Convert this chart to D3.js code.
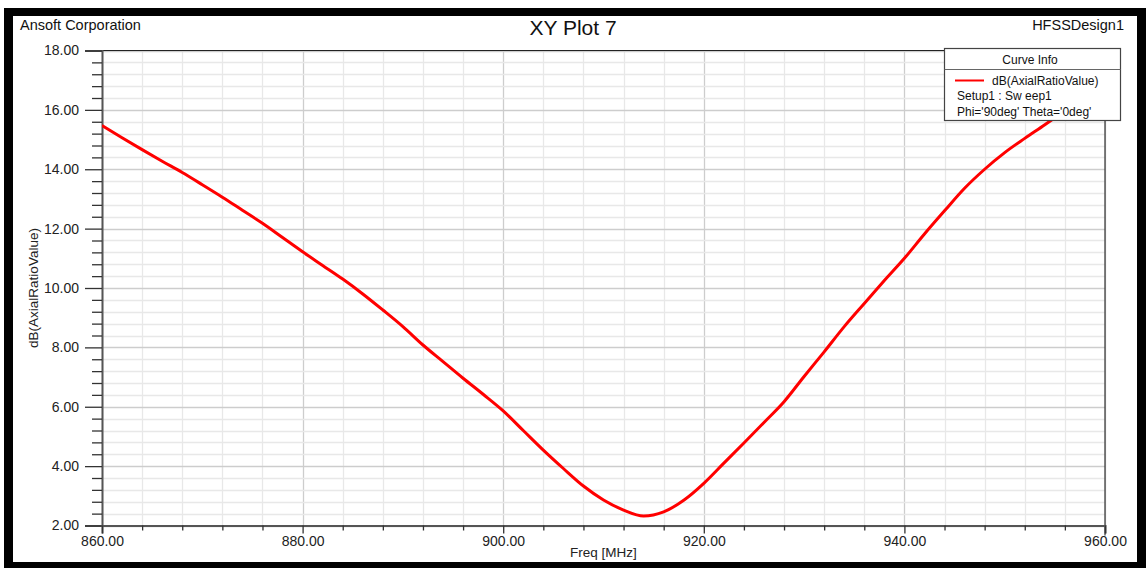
<!DOCTYPE html>
<html>
<head>
<meta charset="utf-8">
<script src="https://cdn.jsdelivr.net/npm/d3@7"></script>
<style>
  html, body { margin: 0; padding: 0; background: #fff; }
  svg { display: block; font-family: Arial, "Liberation Sans", sans-serif; }
</style>
</head>
<body>
<svg id="chart" width="1146" height="568"></svg>
<script>
// Axial ratio sweep, Setup1 : Sweep1, Phi='90deg' Theta='0deg'
const freqMHz = [860, 862, 864, 866, 868, 870, 872, 874, 876, 878,
                 880, 882, 884, 886, 888, 890, 892, 894, 896, 898,
                 900, 902, 904, 906, 908, 910, 912, 914, 916, 918,
                 920, 922, 924, 926, 928, 930, 932, 934, 936, 938,
                 940, 942, 944, 946, 948, 950, 952, 954, 956, 958, 960];
const axialRatioDb = [15.47, 15.06, 14.66, 14.27, 13.89, 13.48, 13.06, 12.62, 12.18, 11.70,
                      11.22, 10.76, 10.30, 9.80, 9.26, 8.70, 8.08, 7.52, 6.96, 6.42,
                      5.86, 5.20, 4.54, 3.92, 3.33, 2.86, 2.52, 2.32, 2.46, 2.85,
                      3.42, 4.10, 4.78, 5.47, 6.17, 7.02, 7.85, 8.70, 9.48, 10.25,
                      11.00, 11.82, 12.60, 13.36, 14.00, 14.56, 15.04, 15.50, 15.98, 16.50, 17.05];
const xTickValues = [860, 880, 900, 920, 940, 960];
const yTickValues = [2, 4, 6, 8, 10, 12, 14, 16, 18];
const legendLines = ["dB(AxialRatioValue)", "Setup1 : Sw eep1", "Phi='90deg' Theta='0deg'"];

const svg = d3.select("#chart");
const W = 1146, H = 568;
const plot = { left: 102, right: 1105, top: 50.5, bottom: 525.5 };
const FONT = "Arial, 'Liberation Sans', sans-serif";

// outer black frame
svg.append("rect").attr("x", 4).attr("y", 8).attr("width", W - 4).attr("height", H - 8).attr("fill", "#000");
svg.append("rect").attr("x", 13).attr("y", 16).attr("width", 1124).attr("height", 546).attr("fill", "#fff");

const x = d3.scaleLinear().domain([860, 960]).range([plot.left, plot.right]);
const y = d3.scaleLinear().domain([2, 18]).range([plot.bottom, plot.top]);

// grid
const minorX = d3.range(860, 960.001, 4);
const minorY = d3.range(2, 18.001, 0.4);
const isMajorY = d => Math.abs(Math.round(d * 10) % 20) < 1e-6;
const grid = svg.append("g");
grid.selectAll(".gx").data(minorX).join("line")
  .attr("x1", d => Math.round(x(d)) + 0.5).attr("x2", d => Math.round(x(d)) + 0.5)
  .attr("y1", plot.top).attr("y2", plot.bottom)
  .attr("stroke", d => (d % 20 === 0 ? "#cdcdcd" : "#e8e8e8")).attr("stroke-width", 1.3);
grid.selectAll(".gy").data(minorY).join("line")
  .attr("x1", plot.left).attr("x2", plot.right)
  .attr("y1", d => Math.round(y(d)) + 0.5).attr("y2", d => Math.round(y(d)) + 0.5)
  .attr("stroke", d => (isMajorY(d) ? "#cdcdcd" : "#e8e8e8")).attr("stroke-width", 1.3);

// plot box (top and right)
svg.append("line").attr("x1", 85).attr("x2", plot.right).attr("y1", plot.top).attr("y2", plot.top)
  .attr("stroke", "#222").attr("stroke-width", 1);
svg.append("line").attr("x1", plot.right).attr("x2", plot.right).attr("y1", plot.top).attr("y2", plot.bottom + 10)
  .attr("stroke", "#333").attr("stroke-width", 1.2);

// y axis
const yAxis = d3.axisLeft(y).tickValues(yTickValues).tickFormat(d3.format(".2f")).tickSize(17).tickPadding(6);
const gy = svg.append("g").attr("transform", `translate(${plot.left},0)`).call(yAxis);
gy.select(".domain").attr("stroke", "#555").attr("stroke-width", 2);
gy.selectAll(".tick line").attr("stroke", "#333").attr("stroke-width", 1.3);
gy.selectAll(".tick text").attr("font-size", 14).attr("fill", "#222").attr("font-family", FONT);
const gyMinor = d3.axisLeft(y).tickValues(minorY.filter(v => !isMajorY(v))).tickSize(10).tickFormat("");
svg.append("g").attr("transform", `translate(${plot.left},0)`).call(gyMinor)
  .call(g => g.select(".domain").remove())
  .call(g => g.selectAll(".tick line").attr("stroke", "#333").attr("stroke-width", 1.3));

// x axis
const xAxis = d3.axisBottom(x).tickValues(xTickValues).tickFormat(d3.format(".2f")).tickSize(8).tickPadding(3);
const gx = svg.append("g").attr("transform", `translate(0,${plot.bottom})`).call(xAxis);
gx.select(".domain").attr("stroke", "#555").attr("stroke-width", 2);
gx.selectAll(".tick line").attr("stroke", "#333").attr("stroke-width", 1.3);
gx.selectAll(".tick text").attr("font-size", 14).attr("fill", "#222").attr("font-family", FONT);
const gxMinor = d3.axisBottom(x).tickValues(minorX.filter(v => v % 20 !== 0)).tickSize(5).tickFormat("");
svg.append("g").attr("transform", `translate(0,${plot.bottom})`).call(gxMinor)
  .call(g => g.select(".domain").remove())
  .call(g => g.selectAll(".tick line").attr("stroke", "#333").attr("stroke-width", 1.3));

// curve
const pts = freqMHz.map((f, i) => [f, axialRatioDb[i]]);
svg.append("defs").append("clipPath").attr("id", "plotclip")
  .append("rect").attr("x", plot.left).attr("y", plot.top).attr("width", plot.right - plot.left).attr("height", plot.bottom - plot.top);
svg.append("path").datum(pts)
  .attr("clip-path", "url(#plotclip)")
  .attr("fill", "none").attr("stroke", "#ff0000").attr("stroke-width", 3)
  .attr("stroke-linejoin", "round")
  .attr("d", d3.line().x(d => x(d[0])).y(d => y(d[1])).curve(d3.curveMonotoneX));

// titles
svg.append("text").attr("x", 20).attr("y", 30).attr("font-size", 14.5).attr("fill", "#111").text("Ansoft Corporation");
svg.append("text").attr("x", 573).attr("y", 35).attr("text-anchor", "middle").attr("font-size", 21).attr("fill", "#111").text("XY Plot 7");
svg.append("text").attr("x", 1124).attr("y", 30).attr("text-anchor", "end").attr("font-size", 14.5).attr("fill", "#111").text("HFSSDesign1");
svg.append("text").attr("x", (plot.left + plot.right) / 2).attr("y", 557).attr("text-anchor", "middle")
  .attr("font-size", 13.5).attr("fill", "#222").text("Freq [MHz]");
svg.append("text").attr("transform", `translate(38,${(plot.top + plot.bottom) / 2}) rotate(-90)`)
  .attr("text-anchor", "middle").attr("font-size", 13.5).attr("fill", "#222").text("dB(AxialRatioValue)");

// legend
const lg = svg.append("g");
lg.append("rect").attr("x", 944.5).attr("y", 48.5).attr("width", 176).attr("height", 72)
  .attr("fill", "#fff").attr("stroke", "#444").attr("stroke-width", 1.2);
lg.append("line").attr("x1", 944.5).attr("x2", 1120.5).attr("y1", 69.5).attr("y2", 69.5).attr("stroke", "#666");
lg.append("text").attr("x", 1030).attr("y", 63.5).attr("text-anchor", "middle").attr("font-size", 12).attr("fill", "#111").text("Curve Info");
lg.append("line").attr("x1", 955).attr("x2", 984).attr("y1", 80.5).attr("y2", 80.5).attr("stroke", "#ff0000").attr("stroke-width", 2);
lg.append("text").attr("x", 992).attr("y", 85).attr("font-size", 12).attr("fill", "#111").text(legendLines[0]);
lg.append("text").attr("x", 957).attr("y", 100).attr("font-size", 12).attr("fill", "#111").text(legendLines[1]);
lg.append("text").attr("x", 957).attr("y", 115.5).attr("font-size", 12).attr("fill", "#111").text(legendLines[2]);
</script>
</body>
</html>
